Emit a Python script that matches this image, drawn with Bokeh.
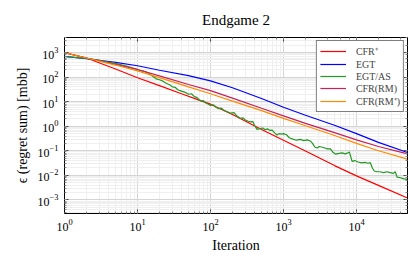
from bokeh.plotting import figure
from bokeh.models import Range1d, LogAxis, Legend, LegendItem
from bokeh.embed import file_html
from bokeh.resources import INLINE

# ---- data ----
x_cfrp = [1, 2, 5, 10, 20, 40, 70, 100, 200, 500, 1000, 2000, 5000, 10000, 20000, 50000]
y_cfrp = [1000, 600, 215, 94, 45, 21, 11.5, 7.9, 3.0, 0.74, 0.27, 0.098, 0.025, 0.0095, 0.0039, 0.0012]

x_egt = [1, 2, 5, 10, 20, 50, 100, 200, 500, 1000, 2000, 5000, 10000, 20000, 50000]
y_egt = [700, 560, 400, 290, 190, 115, 70, 37, 13.5, 5.9, 2.8, 1.1, 0.5, 0.22, 0.085]

x_egtas = [1, 1.5, 2, 3, 4, 5, 6, 7, 8, 9, 10, 11, 12, 13, 14, 15, 16, 18, 20, 22, 25, 28, 30,
           33, 36, 40, 45, 50, 55, 60, 65, 70, 75, 80, 85, 90, 100, 110, 120, 130, 140, 150,
           170, 190, 210, 230, 256, 280, 300, 330, 350, 380, 400, 434, 470, 520, 560, 600, 650,
           700, 750, 815, 870, 950, 1000, 1100, 1200, 1350, 1500, 1700, 1900, 2100, 2340, 2500,
           2700, 2900, 3100, 3400, 3700, 4000, 4400, 4800, 5200, 5800, 6400, 7000, 7440, 8000,
           8700, 9500, 10500, 11800, 13000, 14500, 15500, 16500, 17500, 19000, 21000, 23600,
           26000, 29000, 32000, 34000, 36000, 40000, 45000, 50000]
y_egtas = [690, 620, 580, 480, 410, 360, 315, 280, 250, 225, 200, 185, 175, 162, 150, 125, 110,
           85, 78, 70, 55, 48, 40, 38, 30, 27, 24, 20, 21, 16, 15, 12, 10.5, 11, 9, 8.5, 7, 7.4,
           5.8, 5.2, 5.5, 4.6, 3.9, 3.4, 3.6, 2.6, 2.1, 2.2, 1.8, 1.6, 1.5, 1.55, 1.1, 0.75, 0.8,
           0.85, 0.72, 0.78, 0.68, 0.7, 0.55, 0.44, 0.5, 0.48, 0.5, 0.45, 0.34, 0.3, 0.27, 0.29,
           0.26, 0.28, 0.25, 0.2, 0.14, 0.13, 0.15, 0.14, 0.13, 0.12, 0.12, 0.085, 0.073, 0.078,
           0.082, 0.075, 0.08, 0.09, 0.037, 0.04, 0.035, 0.032, 0.034, 0.031, 0.033, 0.02, 0.015,
           0.014, 0.014, 0.013, 0.014, 0.013, 0.012, 0.014, 0.0085, 0.008, 0.0072, 0.0069]

x_rm = [1, 2, 5, 10, 20, 50, 100, 200, 500, 1000, 2000, 5000, 10000, 20000, 50000]
y_rm = [980, 600, 330, 205, 112, 50, 28, 14, 5.4, 2.65, 1.3, 0.55, 0.28, 0.15, 0.075]

x_rmp = [1, 2, 5, 10, 20, 50, 100, 200, 500, 1000, 2000, 5000, 10000, 20000, 50000]
y_rmp = [1000, 600, 310, 180, 95, 40, 21, 10.5, 4.3, 2.1, 1.05, 0.42, 0.2, 0.1, 0.046]

labels = ["CFR\u207a", "EGT", "EGT/AS", "CFR(RM)", "CFR(RM\u207a)"]
colors = ["#ff0000", "#0000ff", "#229922", "#c8205a", "#ff8c00"]

FONT = "Liberation Serif"

p = figure(width=408, height=256, x_axis_type="log", y_axis_type="log",
           x_range=Range1d(1, 50000), y_range=Range1d(2.8e-4, 4100),
           output_backend="svg", toolbar_location=None, title="Endgame 2",
           min_border_left=64, min_border_right=1, min_border_top=34, min_border_bottom=43)

p.title.align = "center"
p.title.text_font = FONT
p.title.text_font_style = "normal"
p.title.text_font_size = "15px"
p.title.text_color = "black"
p.title.standoff = 19

p.outline_line_color = "black"
p.outline_line_alpha = 1.0

for ax in (p.xaxis[0], p.yaxis[0]):
    ax.major_label_text_font = FONT
    ax.major_label_text_font_size = "12px"
    ax.major_label_text_color = "black"
    ax.axis_label_text_font = FONT
    ax.axis_label_text_font_style = "normal"
    ax.axis_label_text_color = "black"
    ax.axis_label_text_font_size = "14px"
    ax.major_tick_in = 4
    ax.major_tick_out = 0
    ax.minor_tick_in = 2
    ax.minor_tick_out = 0
    ax.major_tick_line_color = "#444444"
    ax.minor_tick_line_color = "#888888"
    ax.axis_line_color = "black"

p.xaxis.axis_label = "Iteration"
p.xaxis.axis_label_standoff = 4
p.xaxis.major_label_standoff = 5
p.yaxis.axis_label = "\u03f5 (regret sum) [mbb]"
p.yaxis.axis_label_standoff = 5
p.yaxis.major_label_standoff = 6

for side in ("above", "right"):
    a = LogAxis(major_label_text_alpha=0.0, major_label_text_font_size="2px",
                major_label_standoff=0,
                major_tick_in=4, major_tick_out=0, minor_tick_in=2, minor_tick_out=0,
                major_tick_line_color="#444444", minor_tick_line_color="#888888",
                axis_line_color="black")
    p.add_layout(a, side)

p.xgrid.grid_line_color = "#d4d4d4"
p.ygrid.grid_line_color = "#d4d4d4"
p.xgrid.minor_grid_line_color = "#efefef"
p.ygrid.minor_grid_line_color = "#efefef"

series = [(x_cfrp, y_cfrp), (x_egt, y_egt), (x_egtas, y_egtas), (x_rm, y_rm), (x_rmp, y_rmp)]
renderers = []
for (xs, ys), c in zip(series, colors):
    renderers.append(p.line(xs, ys, line_color=c, line_width=1.2))

legend = Legend(items=[LegendItem(label=l, renderers=[r]) for l, r in zip(labels, renderers)],
                location="top_right")
legend.label_text_font = FONT
legend.label_text_font_size = "10px"
legend.label_height = 12
legend.glyph_height = 12
legend.glyph_width = 26
legend.label_standoff = 10
legend.spacing = 0
legend.padding = 3
legend.margin = 3
legend.border_line_color = "black"
legend.border_line_width = 1
legend.background_fill_alpha = 1.0
p.add_layout(legend)

open("out.html", "w").write(file_html(p, INLINE))
